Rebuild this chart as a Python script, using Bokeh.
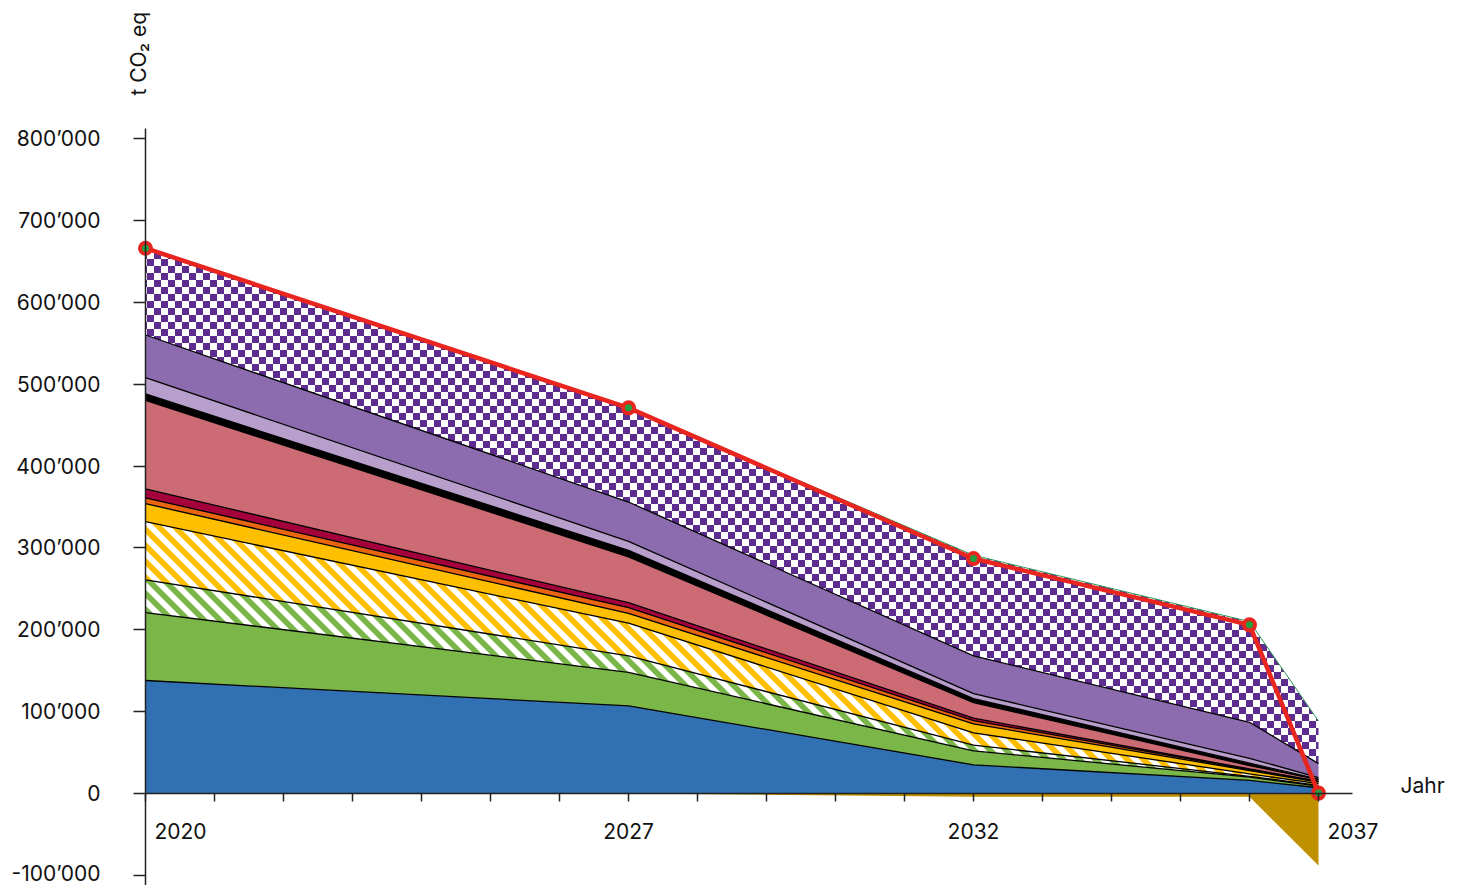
import math
import base64
import numpy as np
from bokeh.plotting import figure
from bokeh.models import ColumnDataSource, FixedTicker, Label, ImageURLTexture, Range1d
from bokeh.core.properties import value
from bokeh.embed import file_html
from bokeh.resources import INLINE

# ---------------- data (t CO2 eq, in thousands) ----------------
years = [2020, 2027, 2032, 2036, 2037]
label_years = [2020, 2027, 2032, 2037]
y_ticks = [-100000, 0, 100000, 200000, 300000, 400000, 500000, 600000, 700000, 800000]

blue = [138, 107, 35, 16, 7]
green = [83, 41, 17, 4, 2]
green_hatched = [40, 20, 7, 1, 1]
yellow_hatched = [71, 40, 15, 3, 2]
yellow = [22, 12, 11, 4, 2]
orange = [7, 7, 4, 1, 0.5]
crimson = [11, 6, 3, 1, 0.5]
salmon = [108, 56, 19, 4, 2]
black = [8, 8, 5, 3, 0.5]
light_purple = [20, 11, 6, 6, 2]
purple = [52, 48, 46, 44, 17]
purple_checker = [106, 115, 123, 123, 52]
gold_negative = [0, 0, -4, -4, -88]

UNIT = 1000

positive_layers = [blue, green, green_hatched, yellow_hatched, yellow, orange,
                   crimson, salmon, black, light_purple, purple, purple_checker]

# ---------------- styles ----------------
fills = ["#3171b3", "#7ab648", "white", "white", "#fdbf00", "#e9650f",
         "#a6003c", "#cc6b73", "#000000", "#b89fcb", "#8c6bae", "white"]
hatches = [None, None, "green_stripes", "yellow_stripes", None, None,
           None, None, None, None, None, "checker"]


def svg_url(body, size):
    svg = (f'<svg xmlns="http://www.w3.org/2000/svg" width="{size}" height="{size}">'
           f'<rect width="{size}" height="{size}" fill="white"/>{body}</svg>')
    return "data:image/svg+xml;base64," + base64.b64encode(svg.encode()).decode()


def stripes(color):
    return svg_url(
        f'<polygon points="0,0 4,0 16,12 16,16 12,16 0,4" fill="{color}"/>'
        f'<polygon points="12,0 16,0 16,4" fill="{color}"/>'
        f'<polygon points="0,12 0,16 4,16" fill="{color}"/>', 16)


def checker(color):
    return svg_url(
        f'<rect x="0" y="0" width="7" height="7" fill="{color}"/>'
        f'<rect x="7" y="7" width="7" height="7" fill="{color}"/>', 14)


textures = {
    "checker": ImageURLTexture(url=checker("#5c2d8f")),
    "green_stripes": ImageURLTexture(url=stripes("#7ab648")),
    "yellow_stripes": ImageURLTexture(url=stripes("#fdbf00")),
}

FONT = "Inter"
FS = "21px"
AX = "#222222"
TXT = "#111111"

# ---------------- build stack ----------------
data = {"year": years}
bottom = np.zeros(len(years))
for i, vals in enumerate(positive_layers):
    top = bottom + np.array(vals, dtype=float) * UNIT
    data[f"b{i}"] = bottom
    data[f"t{i}"] = top
    bottom = top
data["neg0"] = np.zeros(len(years))
data["neg"] = np.array(gold_negative, dtype=float) * UNIT
data["total"] = bottom + data["neg"]
src = ColumnDataSource(data)

# ---------------- geometry (frame = whole canvas) ----------------
W, H = 1455, 885
PX_YEAR = 69.0          # px per year
ORIGIN_X = 145.0        # px of first year
PX_UNIT = 81.875 / 1e5  # px per t
ZERO_Y = 793.0          # px of y = 0
x_start = years[0] - ORIGIN_X / PX_YEAR
x_end = x_start + W / PX_YEAR
y_end = ZERO_Y / PX_UNIT
y_start = -(H - ZERO_Y) / PX_UNIT
y_axis_top = y_ticks[-1] + 10 / PX_UNIT
x_axis_right = years[-1] + 34 / PX_YEAR

p = figure(width=W, height=H, output_backend="svg", toolbar_location=None,
           x_range=Range1d(x_start, x_end), y_range=Range1d(y_start, y_end),
           min_border=0, min_border_left=0, min_border_right=0,
           min_border_top=0, min_border_bottom=0)
p.outline_line_color = None
p.xgrid.visible = False
p.ygrid.visible = False
p.background_fill_color = "white"

# negative area
p.varea(x="year", y1="neg0", y2="neg", source=src, fill_color="#bf9000")

for i in range(len(positive_layers)):
    kw = dict(x="year", y1=f"b{i}", y2=f"t{i}", source=src, fill_color=fills[i])
    h = hatches[i]
    if h is not None:
        kw.update(hatch_pattern=value(h), hatch_extra={h: textures[h]})
    p.varea(**kw)

for i in range(len(positive_layers)):
    last = i == len(positive_layers) - 1
    p.line(x="year", y=f"t{i}", source=src,
           line_color="#2e9a55" if last else "black",
           line_width=1 if last else 1.3)

# total line
p.line(x="year", y="total", source=src, line_color="#e8251e", line_width=4.5)
p.scatter(x="year", y="total", source=src, size=11, fill_color="#22a040",
          line_color="#e8251e", line_width=4)

# y axis at first year
yax = p.yaxis[0]
yax.fixed_location = years[0]
yax.bounds = (y_start, y_axis_top)
yax.ticker = FixedTicker(ticks=y_ticks)
yax.major_label_overrides = {t: f"{t:,}".replace(",", "\u2019") for t in y_ticks}
yax.axis_line_color = AX
yax.axis_line_width = 1.5
yax.major_tick_in = 0
yax.major_tick_out = 12
yax.major_tick_line_width = 1.5
yax.major_tick_line_color = AX
yax.minor_tick_line_color = None
yax.major_label_standoff = 33
yax.major_label_text_font = FONT
yax.major_label_text_font_size = FS
yax.major_label_text_color = TXT

# x axis at y = 0
xax = p.xaxis[0]
xax.fixed_location = 0
xax.bounds = (years[0], x_axis_right)
xax.ticker = FixedTicker(ticks=list(range(years[0], years[-1] + 1)))
xax.major_label_overrides = {y: "" for y in range(years[0], years[-1] + 1)}
xax.major_label_text_font_size = "0px"
xax.major_tick_in = 0
xax.major_tick_out = 8
xax.major_tick_line_width = 1.5
xax.major_tick_line_color = AX
xax.minor_tick_line_color = None
xax.axis_line_width = 1.5
xax.axis_line_color = AX

for yr in label_years:
    edge = yr in (years[0], years[-1])
    p.add_layout(Label(x=yr, y=0, text=str(yr), x_offset=9 if edge else 0,
                       y_offset=-37, text_align="left" if edge else "center",
                       text_baseline="middle", text_font=FONT,
                       text_font_size=FS, text_color=TXT))

p.add_layout(Label(x=years[-1], y=0, text="Jahr", x_offset=82, y_offset=8,
                   text_align="left", text_baseline="middle", text_font=FONT,
                   text_font_size=FS, text_color=TXT))
p.add_layout(Label(x=years[0], y=y_axis_top, text="t CO\u2082 eq", x_offset=-7,
                   y_offset=33, angle=math.pi / 2, text_align="left",
                   text_baseline="middle", text_font=FONT,
                   text_font_size=FS, text_color=TXT))

open("out.html", "w").write(file_html(p, INLINE))
